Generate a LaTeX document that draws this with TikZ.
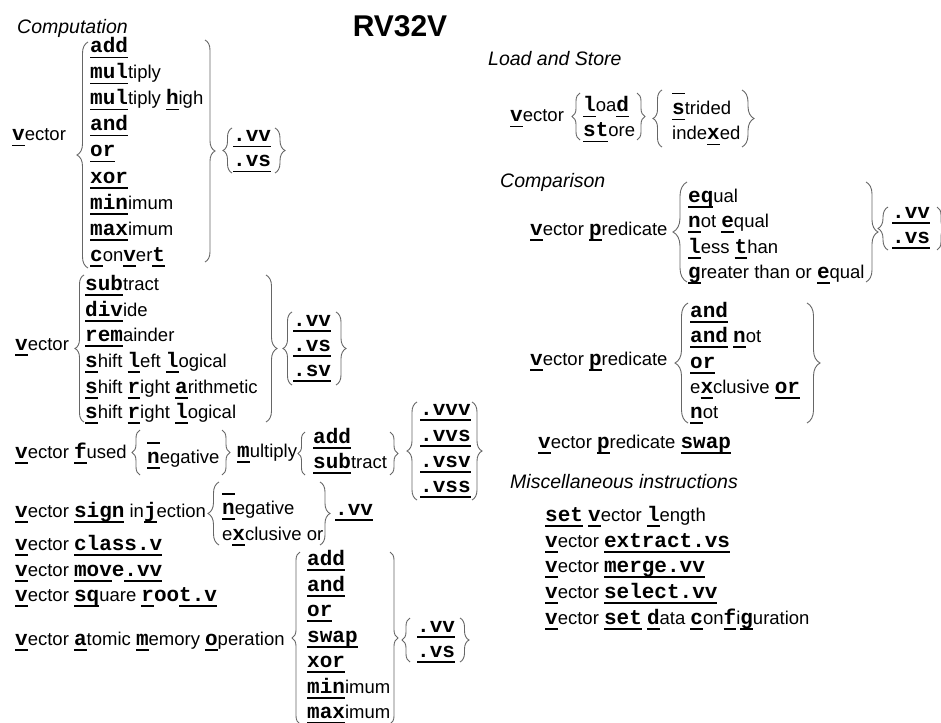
\documentclass[tikz,border=0pt]{standalone}
\usepackage{fontspec}
\setmainfont{Liberation Sans}
\setmonofont{Liberation Mono}[Scale=1.135]
\usepackage{tikz}
\usetikzlibrary{decorations.pathreplacing}

\newsavebox\kwbox
\newcommand\kw[1]{\sbox\kwbox{\ttfamily\bfseries #1}\rlap{\rule[-5.5pt]{\wd\kwbox}{1.8pt}}\usebox\kwbox}
\newcommand\tw[1]{{\ttfamily\bfseries #1}}
\newcommand\blank{\kw{\ }}

\begin{document}
\begin{tikzpicture}[x=1pt, y=-1pt,
				    word/.style={anchor=base west, inner sep=0pt,
				    			 font=\fontsize{18.5}{22}\selectfont, text=black},
				    head/.style={word, font=\fontsize{19.5}{23}\selectfont\itshape},
				    curly/.style={decorate, decoration={brace, amplitude=#1},
				    			  draw=black!60, line width=0.9pt}]
	\useasboundingbox (0,0) rectangle (941,722);

	\node[word, anchor=base, font=\fontsize{30}{36}\selectfont\bfseries] (title) at (400,37) {RV32V};

	\node[head] (comp) at (17,34) {Computation};
	\node[word] (cv) at (12,141) {\kw{v}ector};
	\node[word] (c1) at (90,53) {\kw{add}};
	\node[word] (c2) at (90,79) {\kw{mul}tiply};
	\node[word] (c3) at (90,105) {\kw{mul}tiply \kw{h}igh};
	\node[word] (c4) at (90,131) {\kw{and}};
	\node[word] (c5) at (90,157) {\kw{or}};
	\node[word] (c6) at (90,183) {\kw{xor}};
	\node[word] (c7) at (90,209) {\kw{min}imum};
	\node[word] (c8) at (90,235) {\kw{max}imum};
	\node[word] (c9) at (90,261) {\kw{c}on\kw{v}er\kw{t}};
	\node[word] (c10) at (233,142) {\kw{.vv}};
	\node[word] (c11) at (233,167) {\kw{.vs}};
	\draw[curly=11] (88,268) -- (88,42);
	\draw[curly=10] (205,40) -- (205,262);
	\draw[curly=9] (232,173) -- (232,128);
	\draw[curly=10] (275,128) -- (275,173);

	\node[word] (sv) at (15,350) {\kw{v}ector};
	\node[word] (s1) at (85,290) {\kw{sub}tract};
	\node[word] (s2) at (85,316) {\kw{div}ide};
	\node[word] (s3) at (85,341) {\kw{rem}ainder};
	\node[word] (s4) at (85,367) {\kw{s}hift \kw{l}eft \kw{l}ogical};
	\node[word] (s5) at (85,393) {\kw{s}hift \kw{r}ight \kw{a}rithmetic};
	\node[word] (s6) at (85,418) {\kw{s}hift \kw{r}ight \kw{l}ogical};
	\node[word] (s7) at (293,326) {\kw{.vv}};
	\node[word] (s8) at (293,351) {\kw{.vs}};
	\node[word] (s9) at (293,376) {\kw{.sv}};
	\draw[curly=9] (84,422) -- (84,275);
	\draw[curly=11] (266,275) -- (266,422);
	\draw[curly=9] (292,385) -- (292,312);
	\draw[curly=10] (336,312) -- (336,385);

	\node[word] (fv) at (15,458) {\kw{v}ector \kw{f}used};
	\node[word] (f1) at (147,438) {\blank};
	\node[word] (f2) at (147,463) {\kw{n}egative};
	\node[word] (f3) at (237,457) {\kw{m}ultiply};
	\node[word] (f4) at (313,443) {\kw{add}};
	\node[word] (f5) at (313,468) {\kw{sub}tract};
	\node[word] (f6) at (420,415) {\kw{.vvv}};
	\node[word] (f7) at (420,441) {\kw{.vvs}};
	\node[word] (f8) at (420,467) {\kw{.vsv}};
	\node[word] (f9) at (420,492) {\kw{.vss}};
	\draw[curly=8] (140,475) -- (140,430);
	\draw[curly=8] (222,430) -- (222,475);
	\draw[curly=7] (305,475) -- (305,432);
	\draw[curly=8] (390,432) -- (390,475);
	\draw[curly=10] (417,500) -- (417,402);
	\draw[curly=10] (472,402) -- (472,500);

	\node[word] (gv) at (15,517) {\kw{v}ector \kw{sign} in\kw{j}ection};
	\node[word] (g1) at (222,489) {\blank};
	\node[word] (g2) at (222,514) {\kw{n}egative};
	\node[word] (g3) at (222,540) {e\kw{x}clusive or};
	\node[word] (g4) at (335,515) {\kw{.vv}};
	\draw[curly=11] (219,545) -- (219,482);
	\draw[curly=10] (320,482) -- (320,545);

	\node[word] (m1) at (15,550) {\kw{v}ector \kw{class.v}};
	\node[word] (m2) at (15,576) {\kw{v}ector \kw{mov}\tw{e}\kw{.vv}};
	\node[word] (m3) at (15,601) {\kw{v}ector \kw{sq}uare \kw{r}\tw{oo}\kw{t.v}};
	\node[word] (m4) at (15,645) {\kw{v}ector \kw{a}tomic \kw{m}emory \kw{o}peration};
	\node[word] (a1) at (307,565) {\kw{add}};
	\node[word] (a2) at (307,591) {\kw{and}};
	\node[word] (a3) at (307,616) {\kw{or}};
	\node[word] (a4) at (307,642) {\kw{swap}};
	\node[word] (a5) at (307,667) {\kw{xor}};
	\node[word] (a6) at (307,693) {\kw{min}imum};
	\node[word] (a7) at (307,718) {\kw{max}imum};
	\node[word] (a8) at (417,632) {\kw{.vv}};
	\node[word] (a9) at (417,657) {\kw{.vs}};
	\draw[curly=8] (300,724) -- (300,552);
	\draw[curly=8] (390,552) -- (390,724);
	\draw[curly=8] (410,662) -- (410,618);
	\draw[curly=9] (460,618) -- (460,662);

	\node[head] (lst) at (488,66) {Load and Store};
	\node[word] (lv) at (510,122) {\kw{v}ector};
	\node[word] (l1) at (583,112) {\kw{l}oa\kw{d}};
	\node[word] (l2) at (583,137) {\kw{st}ore};
	\node[word] (l3) at (672,89) {\blank};
	\node[word] (l4) at (672,115) {\kw{s}trided};
	\node[word] (l5) at (672,140) {inde\kw{x}ed};
	\draw[curly=8] (580,140) -- (580,93);
	\draw[curly=8] (637,93) -- (637,140);
	\draw[curly=9] (662,147) -- (662,90);
	\draw[curly=12] (742,90) -- (742,147);

	\node[head] (cmp) at (500,187) {Comparison};
	\node[word] (pv) at (530,235) {\kw{v}ector \kw{p}redicate};
	\node[word] (p1) at (688,202) {\kw{eq}ual};
	\node[word] (p2) at (688,227) {\kw{n}ot \kw{e}qual};
	\node[word] (p3) at (688,253) {\kw{l}ess \kw{t}han};
	\node[word] (p4) at (688,278) {\kw{g}reater than or \kw{e}qual};
	\node[word] (p5) at (892,218) {\kw{.vv}};
	\node[word] (p6) at (892,243) {\kw{.vs}};
	\draw[curly=14] (687,282) -- (687,182);
	\draw[curly=12] (866,182) -- (866,282);
	\draw[curly=10] (888,250) -- (888,207);
	\draw[curly=8] (937,207) -- (937,250);

	\node[word] (qv) at (530,365) {\kw{v}ector \kw{p}redicate};
	\node[word] (q1) at (690,317) {\kw{and}};
	\node[word] (q2) at (690,342) {\kw{and} \kw{n}ot};
	\node[word] (q3) at (690,368) {\kw{or}};
	\node[word] (q4) at (690,393) {e\kw{x}clusive \kw{or}};
	\node[word] (q5) at (690,418) {\kw{n}ot};
	\node[word] (qs) at (538,448) {\kw{v}ector \kw{p}redicate \kw{swap}};
	\draw[curly=13] (688,423) -- (688,303);
	\draw[curly=13] (807,303) -- (807,423);

	\node[head] (misc) at (510,488) {Miscellaneous instructions};
	\node[word] (x1) at (545,521) {\kw{set} \kw{v}ector \kw{l}ength};
	\node[word] (x2) at (545,547) {\kw{v}ector \kw{extract.vs}};
	\node[word] (x3) at (545,572) {\kw{v}ector \kw{merge.vv}};
	\node[word] (x4) at (545,598) {\kw{v}ector \kw{select.vv}};
	\node[word] (x5) at (545,624) {\kw{v}ector \kw{set} \kw{d}ata \kw{c}on\kw{f}i\kw{g}uration};

\end{tikzpicture}
\end{document}
